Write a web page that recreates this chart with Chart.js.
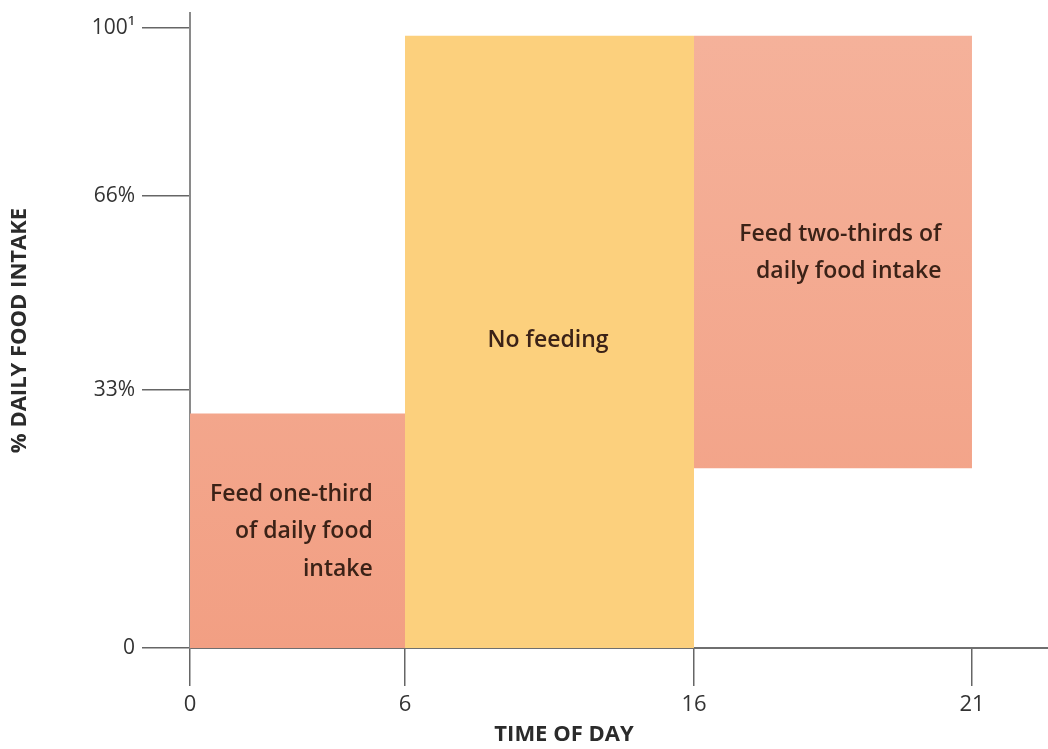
<!DOCTYPE html>
<html>
<head>
<meta charset="utf-8">
<script src="https://cdn.jsdelivr.net/npm/chart.js@4/dist/chart.umd.min.js"></script>
<style>
  html, body { margin: 0; padding: 0; background: #fff; }
  #wrap { width: 1048px; height: 749px; }
</style>
</head>
<body>
<div id="wrap"><canvas id="feedingChart"></canvas></div>
<script>
// FEEDING SCHEDULE CHART
const blockNames = ['Feed one-third', 'No feeding', 'Feed two-thirds'];
const blockStart = [0, 6, 16];      // hour of day
const blockEnd = [6, 16, 21];
const blockLow = [0, 0, 23];        // % daily food intake
const blockHigh = [30, 98.5, 98.5];
const blockText = [
    ['Feed one-third', 'of daily food', 'intake'],
    ['No feeding'],
    ['Feed two-thirds of', 'daily food intake']
];

const xTicks = [0, 6, 16, 21];
const xTickLabels = ['0', '6', '16', '21'];
const yTicks = [0, 33, 66, 100];
const yTickLabels = ['0', '33%', '66%', '100\u00b9'];

// the drawing is schematic: each axis is stretched piece by piece between its ticks
class PiecewiseScale extends Chart.LinearScale {
    static id = 'piecewise';
    static defaults = {};

    toDecimal(value) {
        const knots = this.options.knots, fracs = this.options.fracs;
        if (value <= knots[0]) return fracs[0];
        for (let i = 1; i < knots.length; i++) {
            if (value <= knots[i]) {
                const t = (value - knots[i - 1]) / (knots[i] - knots[i - 1]);
                return fracs[i - 1] + t * (fracs[i] - fracs[i - 1]);
            }
        }
        return fracs[fracs.length - 1];
    }

    getPixelForValue(value) {
        if (value === null || value === undefined || isNaN(value)) return NaN;
        return this.getPixelForDecimal(this.toDecimal(value));
    }

    getValueForPixel(pixel) {
        const d = this.getDecimalForPixel(pixel);
        const knots = this.options.knots, fracs = this.options.fracs;
        for (let i = 1; i < fracs.length; i++) {
            if (d <= fracs[i]) {
                const t = (d - fracs[i - 1]) / (fracs[i] - fracs[i - 1]);
                return knots[i - 1] + t * (knots[i] - knots[i - 1]);
            }
        }
        return knots[knots.length - 1];
    }
}
Chart.register(PiecewiseScale);

function salmonFill(context) {
    const area = context.chart.chartArea;
    if (!area) return '#f4aa91';
    const g = context.chart.ctx.createLinearGradient(0, area.top, 0, area.bottom);
    g.addColorStop(0, '#f5b29b');
    g.addColorStop(1, '#f29f83');
    return g;
}
const blockColors = [salmonFill, '#fcd07d', salmonFill];

// where the words sit inside each block (hour, %), and how they line up
const textAnchors = [
    { x: 5.1, y: 19.7, align: 'right' },
    { x: 10.95, y: 41.5, align: 'center' },
    { x: 20.45, y: 59.5, align: 'right' }
];

const blockLabelPlugin = {
    id: 'blockLabels',
    afterDatasetsDraw(chart) {
        const { ctx, scales: { x, y } } = chart;
        ctx.save();
        ctx.fillStyle = '#3b2217';
        ctx.font = '600 23px "Open Sans"';
        ctx.textBaseline = 'middle';
        blockText.forEach((lines, i) => {
            const a = textAnchors[i];
            ctx.textAlign = a.align;
            const px = x.getPixelForValue(a.x);
            const py = y.getPixelForValue(a.y);
            lines.forEach((line, j) => ctx.fillText(line, px, py + j * 37.5));
        });
        // x axis title
        ctx.fillStyle = '#2b2b2b';
        ctx.font = 'bold 22px "Open Sans"';
        ctx.textAlign = 'center';
        ctx.fillText('TIME OF DAY', 564, 735);
        ctx.restore();
    }
};

const feedingCtx = document.getElementById('feedingChart').getContext('2d');

const feedingChart = new Chart(feedingCtx, {
    type: 'line',
    data: {
        datasets: blockNames.map((name, i) => ({
            label: name,
            data: [
                { x: blockStart[i], y: blockHigh[i] },
                { x: blockEnd[i], y: blockHigh[i] }
            ],
            fill: { value: blockLow[i] },
            backgroundColor: blockColors[i],
            borderWidth: 0,
            pointRadius: 0,
            tension: 0
        }))
    },
    options: {
        responsive: true,
        maintainAspectRatio: false,
        animation: false,
        layout: { padding: 0 },
        scales: {
            x: {
                type: 'piecewise',
                min: 0,
                max: 23,
                knots: [0, 6, 16, 21, 23],
                fracs: [0, 0.2506, 0.5874, 0.9114, 1],
                afterBuildTicks: (scale) => { scale.ticks = xTicks.map(v => ({ value: v })); },
                afterFit: (scale) => {
                    scale.height = 101;
                    scale.paddingLeft = 0;
                    scale.paddingRight = 0;
                },
                ticks: {
                    callback: (value, index) => xTickLabels[index],
                    color: '#333',
                    font: { family: 'Open Sans', size: 22 },
                    padding: 6,
                    maxRotation: 0,
                    autoSkip: false
                },
                grid: {
                    drawOnChartArea: false,
                    drawTicks: true,
                    tickLength: 38,
                    color: '#666',
                    lineWidth: 1.5
                },
                border: { display: true, color: '#6f6f6f', width: 2 }
            },
            y: {
                type: 'piecewise',
                min: 0,
                max: 104,
                knots: [0, 33, 66, 100, 104],
                fracs: [0, 0.4063, 0.7118, 0.976, 1],
                afterBuildTicks: (scale) => { scale.ticks = yTicks.map(v => ({ value: v })); },
                afterFit: (scale) => {
                    scale.width = 190;
                    scale.paddingTop = 13;
                    scale.paddingBottom = 0;
                },
                ticks: {
                    callback: (value, index) => yTickLabels[index],
                    color: '#333',
                    font: { family: 'Open Sans', size: 21 },
                    padding: 7,
                    autoSkip: false
                },
                grid: {
                    drawOnChartArea: false,
                    drawTicks: true,
                    tickLength: 48,
                    color: '#666',
                    lineWidth: 1.5
                },
                border: { display: true, color: '#8a8a8a', width: 2 },
                title: {
                    display: true,
                    text: '% DAILY FOOD INTAKE',
                    color: '#2b2b2b',
                    font: { family: 'Open Sans', size: 22, weight: 'bold' },
                    padding: { top: 7, bottom: 0 }
                }
            }
        },
        plugins: {
            legend: { display: false },
            tooltip: { enabled: false }
        }
    },
    plugins: [blockLabelPlugin]
});
</script>
</body>
</html>
